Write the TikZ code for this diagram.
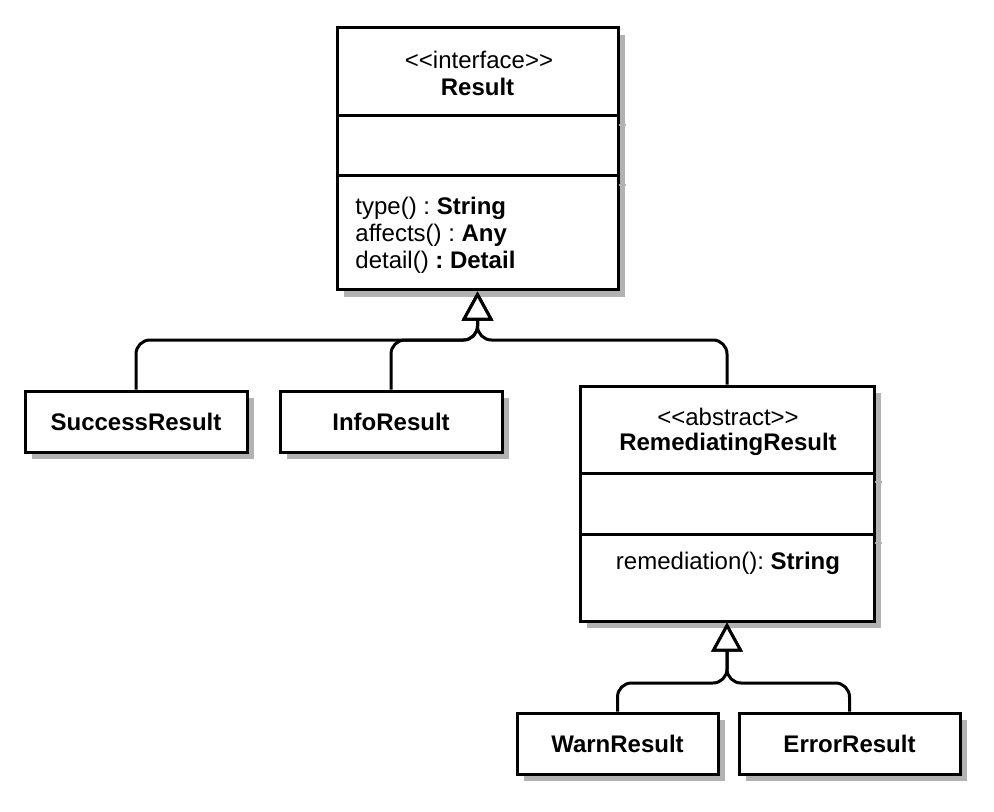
\documentclass[tikz,border=0pt]{standalone}
\usepackage{fontspec}
\setmainfont{Liberation Sans}
\frenchspacing
\usetikzlibrary{arrows.meta,shadows}
\tikzset{
	umlbox/.style={draw, line width=1.5pt, fill=white, inner sep=0pt,
		drop shadow={shadow xshift=3.5pt, shadow yshift=-3.5pt, fill=black!30, opacity=1}},
	umltext/.style={inner sep=0pt, font=\fontsize{12}{13.5}\selectfont},
	extends/.style={line width=1.5pt, rounded corners=7pt,
		-{Triangle[fill=white, length=14.5pt, width=15.5pt]}},
	divshade/.style={line width=0.8pt, color=black!30}
}
\def\divider(#1)(#2)(#3){\draw[line width=1.5pt] (#1,#3) -- (#2,#3); \draw[divshade] (#2+1,#3+9) -- (#2+8,#3+9);}

\begin{document}
\begin{tikzpicture}[x=0.5pt, y=-0.5pt]
			%%%%% START %%%%%
			\useasboundingbox (0,0) rectangle (994,812);
			
			\node[umlbox, minimum width=140.5pt, minimum height=131pt] (result) at (477.5,159) {};
			\divider(337)(618)(116)
			\divider(337)(618)(176)
			\node[umltext] (resultstereo) at (479,60) {<{}<interface>{}>};
			\node[umltext] (resultname) at (477.5,87) {\textbf{Result}};
			\node[umltext, anchor=west, align=left] (resultops) at (355,235)
				{type() : \textbf{String}\\affects() : \textbf{Any}\\detail() \textbf{: Detail}};
			
			\node[umlbox, minimum width=111pt, minimum height=30.5pt, font=\fontsize{12}{13.5}\selectfont\bfseries] (success) at (136,421.5) {SuccessResult};
			\node[umlbox, minimum width=111pt, minimum height=30.5pt, font=\fontsize{12}{13.5}\selectfont\bfseries] (info) at (391,421.5) {InfoResult};
			
			\node[umlbox, minimum width=147pt, minimum height=117.5pt] (remed) at (727,503.5) {};
			\divider(580)(874)(473)
			\divider(580)(874)(534)
			\node[umltext] (remedstereo) at (728,417) {<{}<abstract>{}>};
			\node[umltext] (remedname) at (728,444) {\textbf{RemediatingResult}};
			\node[umltext] (remedops) at (728,563) {remediation(): \textbf{String}};
			
			\node[umlbox, minimum width=100.5pt, minimum height=30.5pt, font=\fontsize{12}{13.5}\selectfont\bfseries] (warn) at (617.5,743.5) {WarnResult};
			\node[umlbox, minimum width=110.5pt, minimum height=30.5pt, font=\fontsize{12}{13.5}\selectfont\bfseries] (error) at (849.5,743.5) {ErrorResult};
			
			\coordinate (tophub) at (477.5,340);
			\coordinate (lowhub) at (727,683);
			
			\draw[extends] (success.north) |- (tophub) -- (result.south);
			\draw[extends] (info.north) |- (tophub) -- (result.south);
			\draw[extends] (remed.north) |- (tophub) -- (result.south);
			
			\draw[extends] (warn.north) |- (lowhub) -- (remed.south);
			\draw[extends] (error.north) |- (lowhub) -- (remed.south);
			
			%%%%% END %%%%%
		\end{tikzpicture}
\end{document}
